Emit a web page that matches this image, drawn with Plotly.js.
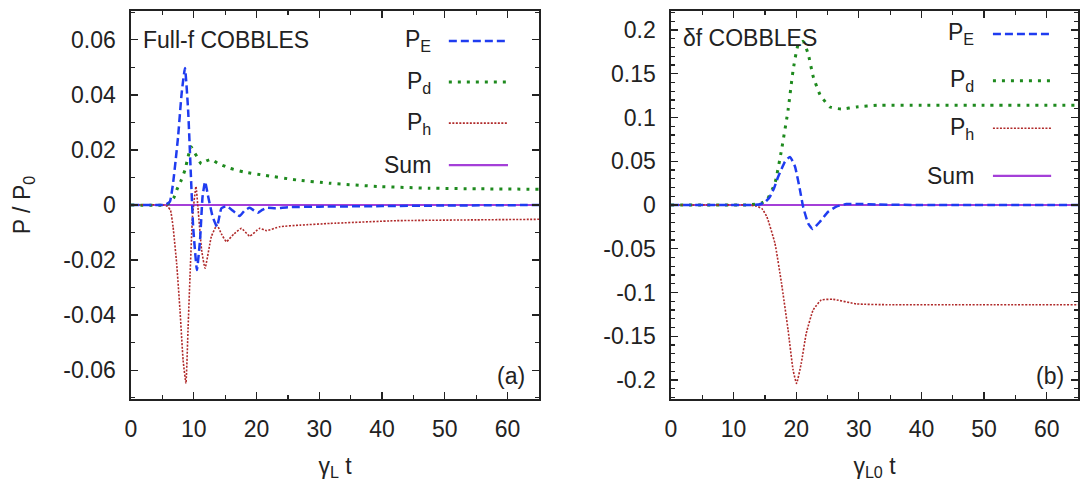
<!DOCTYPE html>
<html>
<head>
<meta charset="utf-8">
<script src="https://cdn.plot.ly/plotly-3.0.1.min.js"></script>
<style>html,body{margin:0;padding:0;background:#fff;}#chart{width:1086px;height:490px;}</style>
</head>
<body>
<div id="chart"></div>
<script>
// ---- Panel (a): Full-f COBBLES ----
const tA_E = [0, 5, 5.6, 6.2, 6.7, 7.1, 7.5, 8.07, 8.6, 9.1, 9.55, 9.9, 10.5, 11, 11.4, 11.8, 12.3, 13, 13.7, 14.4, 15.2, 16.2, 17.3, 18.1, 18.9, 19.6, 20.2, 20.9, 21.6, 23, 25, 30, 40, 50, 65];
const vA_E = [0, 0, 0.0002, 0.0012, 0.0079, 0.016, 0.0248, 0.0406, 0.0498, 0.0345, 0.0103, -0.0079, -0.0236, -0.0127, 0.003, 0.0085, 0.003, -0.0042, -0.0079, -0.0012, -0.0004, -0.002, -0.004, -0.002, -0.001, -0.002, -0.0028, -0.0018, -0.001, -0.0012, -0.0008, -0.0006, -0.0004, -0.0002, 0];

const tA_d = [0, 5.5, 6.2, 6.8, 7.3, 8, 8.6, 9.1, 9.55, 10, 10.5, 11.2, 12, 12.8, 13.8, 15.8, 18, 21, 26.4, 31.7, 39.6, 47.6, 55, 65];
const vA_d = [0, 0, 0.0008, 0.0025, 0.0055, 0.009, 0.0127, 0.0176, 0.0212, 0.0195, 0.0176, 0.0149, 0.016, 0.0166, 0.0152, 0.0133, 0.012, 0.0109, 0.0091, 0.0079, 0.0067, 0.0061, 0.0059, 0.0057];

const tA_h = [0, 5.2, 5.8, 6.3, 6.7, 7.27, 7.8, 8.3, 8.75, 9.1, 9.4, 9.8, 10.35, 10.7, 11.25, 11.8, 12.8, 13.7, 14.4, 15.2, 16.4, 17.6, 18.9, 20.5, 21.6, 23.7, 27, 31.7, 42.3, 55, 65];
const vA_h = [0, 0, -0.0005, -0.002, -0.0079, -0.0212, -0.038, -0.0564, -0.0648, -0.0442, -0.026, -0.0042, 0.0067, -0.0018, -0.0164, -0.023, -0.0115, -0.0073, -0.0105, -0.0133, -0.0105, -0.0085, -0.0113, -0.0085, -0.0093, -0.0079, -0.0073, -0.0067, -0.0057, -0.0054, -0.0052];

const tA_sum = [0, 65];
const vA_sum = [0, 0];

// ---- Panel (b): delta-f COBBLES ----
const tB_E = [0, 12, 14, 15, 15.8, 16.5, 17.1, 18.2, 19.0, 19.8, 20.6, 21.1, 21.9, 22.6, 23.8, 25.1, 26.4, 28, 30, 33, 40, 65];
const vB_E = [0, 0, 0.0005, 0.003, 0.0095, 0.02, 0.032, 0.0495, 0.055, 0.044, 0.017, -0.002, -0.021, -0.0274, -0.019, -0.0077, -0.0019, 0.0011, 0.0012, 0.0005, 0, 0];

const tB_d = [0, 12, 13.7, 14.5, 15.3, 16.6, 17.65, 18.7, 19.5, 20.3, 21.1, 21.9, 22.7, 23.8, 25.4, 27.2, 29.6, 33, 40, 50, 65];
const vB_d = [0, 0, 0.001, 0.0025, 0.0057, 0.0248, 0.0629, 0.1086, 0.154, 0.183, 0.187, 0.173, 0.147, 0.126, 0.112, 0.1097, 0.112, 0.114, 0.114, 0.114, 0.114];

const tB_h = [0, 12, 13.5, 14.5, 15.3, 16.6, 17.65, 18.7, 19.5, 20.05, 20.8, 21.6, 22.7, 24.0, 25.9, 29.6, 35, 45, 65];
const vB_h = [0, 0, -0.001, -0.004, -0.0133, -0.0438, -0.0895, -0.143, -0.1886, -0.2038, -0.181, -0.1467, -0.12, -0.1086, -0.1078, -0.113, -0.114, -0.114, -0.114];

const tB_sum = [0, 65];
const vB_sum = [0, 0];

const xTicks = [0, 10, 20, 30, 40, 50, 60];
const yTicksA = [-0.06, -0.04, -0.02, 0, 0.02, 0.04, 0.06];
const yTickTextA = ['-0.06', '-0.04', '-0.02', '0', '0.02', '0.04', '0.06'];
const yTicksB = [-0.2, -0.15, -0.1, -0.05, 0, 0.05, 0.1, 0.15, 0.2];
const yTickTextB = ['-0.2', '-0.15', '-0.1', '-0.05', '0', '0.05', '0.1', '0.15', '0.2'];
const legendNames = ['P<sub>E</sub>', 'P<sub>d</sub>', 'P<sub>h</sub>', 'Sum'];

const C_E = '#1f3cf0', C_d = '#1e8a1e', C_h = '#b02a2a', C_s = '#a43fd8';
const sty = {
  E: {color: C_E, width: 2.5, dash: '8px,4px'},
  d: {color: C_d, width: 3, dash: '3px,6px'},
  h: {color: C_h, width: 1.6, dash: '2px,1.5px'},
  s: {color: C_s, width: 2.2, dash: 'solid'}
};

function tr(x, y, st, xa, ya) {
  return {x: x, y: y, type: 'scatter', mode: 'lines', xaxis: xa, yaxis: ya,
          line: Object.assign({shape: 'spline', smoothing: 0.4}, st), hoverinfo: 'skip', showlegend: false};
}

const data = [
  tr(tA_sum, vA_sum, sty.s, 'x', 'y'),
  tr(tA_d, vA_d, sty.d, 'x', 'y'),
  tr(tA_h, vA_h, sty.h, 'x', 'y'),
  tr(tA_E, vA_E, sty.E, 'x', 'y'),
  tr(tB_sum, vB_sum, sty.s, 'x2', 'y2'),
  tr(tB_d, vB_d, sty.d, 'x2', 'y2'),
  tr(tB_h, vB_h, sty.h, 'x2', 'y2'),
  tr(tB_E, vB_E, sty.E, 'x2', 'y2')
];

const FONT = 'Liberation Sans, Arial, sans-serif';
const TXT = '#222';

function xaxis(dom, title, anchor) {
  return {domain: dom, range: [0, 65], anchor: anchor, tickvals: xTicks,
    ticks: 'inside', ticklen: 7, tickwidth: 1.2, tickcolor: '#222',
    minor: {dtick: 5, tick0: 0, ticks: 'inside', ticklen: 4, tickwidth: 1.2, tickcolor: '#222'},
    showline: true, linecolor: '#222', linewidth: 1.6, mirror: 'allticks',
    showgrid: false, zeroline: false, ticklabelstandoff: 9,
    tickfont: {family: FONT, size: 23, color: TXT},
    title: {text: title, font: {family: FONT, size: 23, color: TXT}, standoff: 16}};
}
function yaxis(dom, range, vals, texts, title, anchor, minorD) {
  return {domain: dom, range: range, anchor: anchor, tickvals: vals, ticktext: texts,
    ticks: 'inside', ticklen: 7, tickwidth: 1.2, tickcolor: '#222',
    minor: {dtick: minorD, tick0: 0, ticks: 'inside', ticklen: 4, tickwidth: 1.2, tickcolor: '#222'},
    showline: true, linecolor: '#222', linewidth: 1.6, mirror: 'allticks',
    showgrid: false, zeroline: false, ticklabelstandoff: 9,
    tickfont: {family: FONT, size: 23, color: TXT},
    title: {text: title, font: {family: FONT, size: 23, color: TXT}, standoff: 26}};
}

const domA = [131 / 1086, 539 / 1086];
const domB = [671 / 1086, 1078 / 1086];

const legA = {xl0: 0.779, xl1: 0.924, xt: 0.740, ys: [0.923, 0.817, 0.711, 0.603]};
const legB = {xl0: 0.791, xl1: 0.934, xt: 0.749, ys: [0.941, 0.820, 0.698, 0.575]};
const styList = [sty.E, sty.d, sty.h, sty.s];

const shapes = [];
const annotations = [];
function addLegend(leg, xr, yr) {
  for (let i = 0; i < 4; i++) {
    const s = styList[i];
    shapes.push({type: 'line', xref: xr, yref: yr, x0: leg.xl0, x1: leg.xl1, y0: leg.ys[i], y1: leg.ys[i],
      line: {color: s.color, width: s.width, dash: s.dash}});
    annotations.push({xref: xr, yref: yr, x: leg.xt, y: leg.ys[i], xanchor: 'right', yanchor: 'middle',
      text: legendNames[i], showarrow: false, font: {family: FONT, size: 23, color: TXT}});
  }
}
addLegend(legA, 'x domain', 'y domain');
addLegend(legB, 'x2 domain', 'y2 domain');

annotations.push({xref: 'x domain', yref: 'y domain', x: 0.025, y: 0.925, xanchor: 'left', yanchor: 'middle',
  text: 'Full-f COBBLES', showarrow: false, font: {family: FONT, size: 23, color: TXT}});
annotations.push({xref: 'x2 domain', yref: 'y2 domain', x: 0.025, y: 0.93, xanchor: 'left', yanchor: 'middle',
  text: 'δf COBBLES', showarrow: false, font: {family: FONT, size: 23, color: TXT}});
annotations.push({xref: 'x domain', yref: 'y domain', x: 0.97, y: 0.06, xanchor: 'right', yanchor: 'middle',
  text: '(a)', showarrow: false, font: {family: FONT, size: 23, color: TXT}});
annotations.push({xref: 'x2 domain', yref: 'y2 domain', x: 0.97, y: 0.06, xanchor: 'right', yanchor: 'middle',
  text: '(b)', showarrow: false, font: {family: FONT, size: 23, color: TXT}});

const layout = {
  width: 1086, height: 490,
  margin: {l: 0, r: 0, t: 11, b: 91, pad: 0},
  paper_bgcolor: '#fff', plot_bgcolor: '#fff',
  showlegend: false,
  xaxis: xaxis(domA, 'γ<sub>L</sub> t', 'y'),
  yaxis: yaxis([0, 1], [-0.0705, 0.0705], yTicksA, yTickTextA, 'P / P<sub>0</sub>', 'x', 0.01),
  xaxis2: xaxis(domB, 'γ<sub>L0</sub> t', 'y2'),
  yaxis2: yaxis([0, 1], [-0.2217, 0.2217], yTicksB, yTickTextB, '', 'x2', 0.01),
  shapes: shapes,
  annotations: annotations
};

Plotly.newPlot('chart', data, layout, {displayModeBar: false, staticPlot: true});
</script>
</body>
</html>
